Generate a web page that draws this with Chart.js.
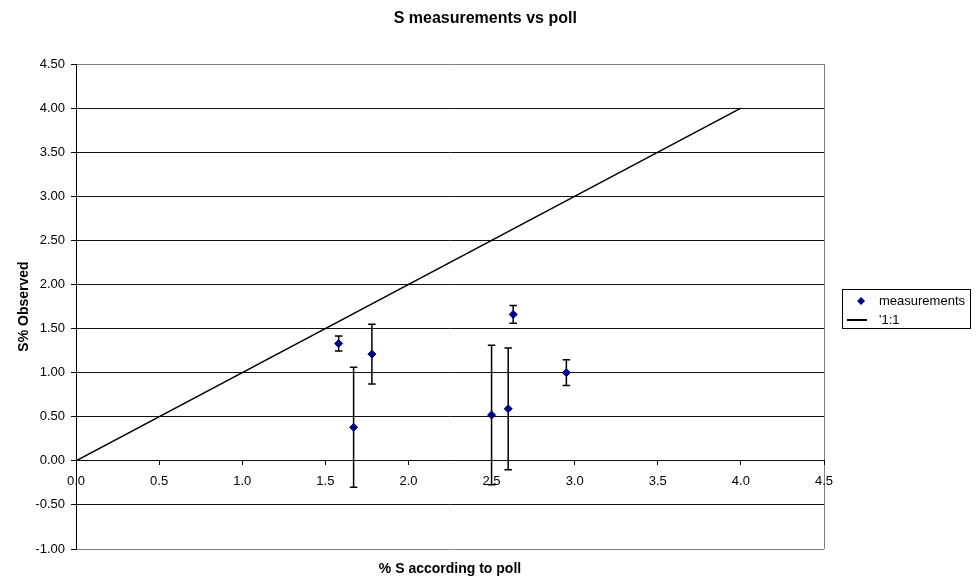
<!DOCTYPE html>
<html><head><meta charset="utf-8">
<script src="https://cdn.jsdelivr.net/npm/chart.js@4.4.1/dist/chart.umd.min.js"></script>
<style>html,body{margin:0;padding:0;background:#fff}#wrap{width:978px;height:579px}</style>
</head><body><div id="wrap"><canvas id="c" width="978" height="579"></canvas></div>
<script>
// ---- data ----
const seriesNames = ['measurements', "'1:1"];
const pollX = [1.58, 1.67, 1.78, 2.50, 2.60, 2.63, 2.95];
const observedY = [1.33, 0.38, 1.21, 0.52, 0.59, 1.66, 1.00];
const observedErr = [0.085, 0.68, 0.34, 0.79, 0.69, 0.10, 0.145];
const refLineX = [0, 4];
const refLineY = [0, 4];
const xTickValues = [0, 0.5, 1, 1.5, 2, 2.5, 3, 3.5, 4, 4.5];
const yTickValues = [-1, -0.5, 0, 0.5, 1, 1.5, 2, 2.5, 3, 3.5, 4, 4.5];
const chartTitle = 'S measurements vs poll';
const xTitle = '% S according to poll';
const yTitle = 'S% Observed';

// ---- chart ----
Chart.defaults.font.family = "'Liberation Sans', Arial, sans-serif";
Chart.defaults.color = '#000';

function legendDiamond() {
  const c = document.createElement('canvas'); c.width = 18; c.height = 10;
  const g = c.getContext('2d'); g.fillStyle = '#000080';
  g.beginPath(); g.moveTo(13, 1); g.lineTo(17, 5); g.lineTo(13, 9); g.lineTo(9, 5); g.closePath(); g.fill();
  return c;
}
function legendLine() {
  const c = document.createElement('canvas'); c.width = 20; c.height = 2;
  const g = c.getContext('2d'); g.fillStyle = '#000'; g.fillRect(0, 0, 20, 2);
  return c;
}

const errorBars = {
  id: 'errorBars',
  beforeDatasetsDraw(chart) {
    const {ctx, scales: {x, y}} = chart;
    ctx.save(); ctx.strokeStyle = '#000'; ctx.lineWidth = 1.5;
    pollX.forEach((xv, i) => {
      const px = x.getPixelForValue(xv);
      const top = y.getPixelForValue(observedY[i] + observedErr[i]);
      const bot = y.getPixelForValue(observedY[i] - observedErr[i]);
      ctx.beginPath();
      ctx.moveTo(px, top); ctx.lineTo(px, bot);
      ctx.moveTo(px - 3.75, top); ctx.lineTo(px + 3.75, top);
      ctx.moveTo(px - 3.75, bot); ctx.lineTo(px + 3.75, bot);
      ctx.stroke();
    });
    ctx.restore();
  }
};

const legendTweak = {
  id: 'legendTweak',
  afterLayout(chart) {
    const lg = chart.legend; const dx = 11.5, dy = 21;
    lg.left += dx; lg.right += dx; lg.top += dy; lg.bottom += dy;
  },
  afterDraw(chart) {
    const hb = chart.legend.legendHitBoxes;
    if (!hb || !hb.length) return;
    const first = hb[0], last = hb[hb.length - 1];
    const ctx = chart.ctx;
    ctx.save(); ctx.strokeStyle = '#000'; ctx.lineWidth = 1;
    const x0 = Math.round(first.left) + 0.5, y0 = Math.round(first.top - 6) + 0.5;
    const y1 = Math.round(last.top + last.height + 1) + 0.5;
    ctx.strokeRect(x0, y0, 128, y1 - y0);
    ctx.restore();
  }
};

new Chart(document.getElementById('c'), {
  type: 'scatter',
  data: {
    datasets: [
      {
        label: seriesNames[0],
        data: pollX.map((v, i) => ({x: v, y: observedY[i]})),
        pointStyle: 'rectRot', pointRadius: 4, pointHoverRadius: 4,
        backgroundColor: '#000080', borderColor: '#000080', borderWidth: 1,
        showLine: false
      },
      {
        label: seriesNames[1],
        data: refLineX.map((v, i) => ({x: v, y: refLineY[i]})),
        showLine: true, borderColor: '#000', borderWidth: 1.5,
        pointRadius: 0, backgroundColor: '#000'
      }
    ]
  },
  options: {
    responsive: false, animation: false, devicePixelRatio: 1,
    layout: {padding: {left: 7, right: 14.5, top: 0, bottom: 0}},
    plugins: {
      tooltip: {enabled: false},
      title: {display: true, text: chartTitle, color: '#000',
        font: {size: 16, weight: 'bold'}, padding: {top: 9.4, bottom: 35.4}},
      legend: {
        display: true, position: 'right',
        labels: {
          color: '#000', font: {size: 13}, usePointStyle: true, pointStyleWidth: 31, padding: 6,
          generateLabels(chart) {
            const items = Chart.defaults.plugins.legend.labels.generateLabels(chart);
            if (items[0]) items[0].pointStyle = legendDiamond();
            if (items[1]) items[1].pointStyle = legendLine();
            return items;
          }
        }
      }
    },
    scales: {
      x: {
        type: 'linear', position: {y: 0}, min: 0, max: 4.5,
        afterBuildTicks: s => { s.ticks = xTickValues.map(v => ({value: v})); },
        ticks: {callback: v => Number(v).toFixed(1), font: {size: 13}, color: '#000', padding: 9, maxRotation: 0, autoSkip: false},
        grid: {color: c => (c.tick && c.tick.value === 4.5) ? '#808080' : 'rgba(0,0,0,0)', tickColor: '#000', tickLength: 4},
        border: {color: '#111', width: 1},
        afterFit: s => { s.height = 0; }
      },
      x2: {
        type: 'linear', position: 'bottom', min: 0, max: 4.5,
        ticks: {display: false}, grid: {display: false, drawTicks: false}, border: {display: false},
        title: {display: true, text: xTitle, color: '#000', font: {size: 14, weight: 'bold'}, padding: {top: 11.6, bottom: 1.6}},
        afterFit: s => { s.height = 30; }
      },
      y: {
        type: 'linear', position: 'left', min: -1, max: 4.5,
        afterBuildTicks: s => { s.ticks = yTickValues.map(v => ({value: v})); },
        ticks: {callback: v => Number(v).toFixed(2), font: {size: 13}, color: '#000', padding: 6},
        grid: {color: c => (c.tick && (c.tick.value === 4.5 || c.tick.value === -1)) ? '#808080' : '#111', tickColor: '#000', tickLength: 5},
        border: {color: '#000', width: 1},
        title: {display: true, text: yTitle, color: '#000', font: {size: 14, weight: 'bold'}, padding: {top: 8.6, bottom: 0}},
        afterFit: s => { s.width = 69; }
      }
    }
  },
  plugins: [errorBars, legendTweak]
});
</script>
</body></html>
